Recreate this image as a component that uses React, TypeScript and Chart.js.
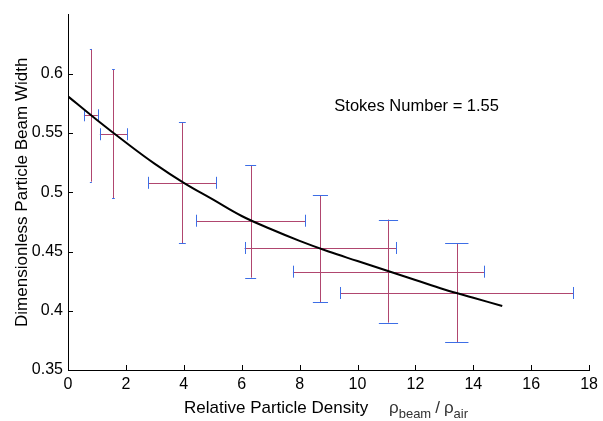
import React, { useEffect, useRef } from "react";
import { Chart, registerables } from "chart.js";

Chart.register(...registerables);

// Measured points with error bars
const xCenters = [0.79, 1.57, 3.95, 6.31, 8.72, 11.07, 13.43];
const yCenters = [0.565, 0.549, 0.508, 0.476, 0.453, 0.433, 0.415];
const xErr = [0.24, 0.47, 1.17, 1.88, 2.62, 3.3, 4.03];
const yLow = [0.509, 0.495, 0.457, 0.428, 0.407, 0.39, 0.3735];
const yHigh = [0.621, 0.604, 0.559, 0.523, 0.4975, 0.477, 0.457];

// Fitted curve
const fitX = [0, 1, 2, 3, 4, 5, 6, 7, 8, 9, 10, 11, 12, 13, 14, 15];
const fitY = [0.581, 0.561, 0.542, 0.524, 0.508, 0.494, 0.48, 0.469, 0.459, 0.45, 0.442, 0.434, 0.426, 0.418, 0.411, 0.404];

const xTicks = [0, 2, 4, 6, 8, 10, 12, 14, 16, 18];
const yTicks = [0.35, 0.4, 0.45, 0.5, 0.55, 0.6];

const annotationText = "Stokes Number = 1.55";
const yTitle = "Dimensionless Particle Beam Width";
const xTitleMain = "Relative Particle Density";

const FONT = "'Liberation Sans', Arial, sans-serif";
const STEM = "#b0466f";
const CAP = "#3d6ee6";

const decorPlugin = {
  id: "decor",
  beforeDatasetsDraw(chart: any) {
    const ctx = chart.ctx;
    const xs = chart.scales.x;
    const ys = chart.scales.y;
    ctx.save();
    ctx.lineWidth = 1;
    for (let i = 0; i < xCenters.length; i++) {
      const cx = xs.getPixelForValue(xCenters[i]);
      const cy = ys.getPixelForValue(yCenters[i]);
      const top = ys.getPixelForValue(yHigh[i]);
      const bot = ys.getPixelForValue(yLow[i]);
      const left = xs.getPixelForValue(xCenters[i] - xErr[i]);
      const right = xs.getPixelForValue(xCenters[i] + xErr[i]);
      const capHalf = Math.max(1, xs.getPixelForValue(xCenters[i] * 1.03) - cx);
      // stems
      ctx.strokeStyle = STEM;
      ctx.beginPath();
      ctx.moveTo(Math.round(cx) + 0.5, top);
      ctx.lineTo(Math.round(cx) + 0.5, bot);
      ctx.moveTo(left, Math.round(cy) + 0.5);
      ctx.lineTo(right, Math.round(cy) + 0.5);
      ctx.stroke();
      // caps
      ctx.strokeStyle = CAP;
      ctx.beginPath();
      ctx.moveTo(cx - capHalf, Math.round(top) + 0.5);
      ctx.lineTo(cx + capHalf, Math.round(top) + 0.5);
      ctx.moveTo(cx - capHalf, Math.round(bot) + 0.5);
      ctx.lineTo(cx + capHalf, Math.round(bot) + 0.5);
      ctx.moveTo(Math.round(left) + 0.5, cy - 6);
      ctx.lineTo(Math.round(left) + 0.5, cy + 6);
      ctx.moveTo(Math.round(right) + 0.5, cy - 6);
      ctx.lineTo(Math.round(right) + 0.5, cy + 6);
      ctx.stroke();
    }
    ctx.restore();
  },
  afterDraw(chart: any) {
    const ctx = chart.ctx;
    const xs = chart.scales.x;
    const ys = chart.scales.y;
    const area = chart.chartArea;
    ctx.save();
    // inward ticks
    ctx.strokeStyle = "#000";
    ctx.lineWidth = 1;
    ctx.beginPath();
    xTicks.forEach((v) => {
      const px = Math.round(xs.getPixelForValue(v)) + 0.5;
      ctx.moveTo(px, area.bottom);
      ctx.lineTo(px, area.bottom - 5);
    });
    yTicks.forEach((v) => {
      const py = Math.round(ys.getPixelForValue(v)) + 0.5;
      ctx.moveTo(area.left, py);
      ctx.lineTo(area.left + 5, py);
    });
    ctx.stroke();

    // annotation
    ctx.fillStyle = "#000";
    ctx.font = `16.5px ${FONT}`;
    ctx.textAlign = "left";
    ctx.textBaseline = "middle";
    ctx.fillText(annotationText, xs.getPixelForValue(9.2), ys.getPixelForValue(0.5725));

    // y title
    ctx.save();
    ctx.translate(22, (area.top + area.bottom) / 2);
    ctx.rotate(-Math.PI / 2);
    ctx.font = `17px ${FONT}`;
    ctx.textAlign = "center";
    ctx.textBaseline = "middle";
    ctx.fillText(yTitle, 0, 0);
    ctx.restore();

    // x title with subscripts
    const baseY = 413;
    ctx.font = `17px ${FONT}`;
    ctx.textBaseline = "alphabetic";
    ctx.textAlign = "left";
    let x = 184;
    ctx.fillText(xTitleMain, x, baseY);
    x = 389;
    ctx.fillStyle = "#333";
    ctx.fillText("\u03c1", x, baseY);
    x += ctx.measureText("\u03c1").width;
    ctx.font = `13px ${FONT}`;
    ctx.fillText("beam", x, baseY + 5);
    x += ctx.measureText("beam").width + 4;
    ctx.font = `17px ${FONT}`;
    ctx.fillText("/", x, baseY);
    x += ctx.measureText("/").width + 4;
    ctx.fillText("\u03c1", x, baseY);
    x += ctx.measureText("\u03c1").width;
    ctx.font = `13px ${FONT}`;
    ctx.fillText("air", x, baseY + 5);
    ctx.restore();
  },
};

export default function App() {
  const ref = useRef<HTMLCanvasElement>(null);
  useEffect(() => {
    if (!ref.current) return;
    const chart = new Chart(ref.current, {
      type: "scatter",
      data: {
        datasets: [
          {
            label: "fit",
            data: fitX.map((x, i) => ({ x, y: fitY[i] })),
            showLine: true,
            borderColor: "#000",
            borderWidth: 2,
            pointRadius: 0,
            tension: 0.4,
            fill: false,
          },
        ],
      },
      options: {
        animation: false,
        responsive: false,
        devicePixelRatio: 1,
        layout: { padding: { left: 0, top: 4, right: 11, bottom: 0 } },
        plugins: { legend: { display: false }, tooltip: { enabled: false } },
        scales: {
          x: {
            type: "linear",
            min: 0,
            max: 18,
            afterBuildTicks: (s: any) => {
              s.ticks = xTicks.map((v) => ({ value: v }));
            },
            afterFit: (s: any) => {
              s.height = 51;
            },
            grid: { display: false, drawTicks: false },
            border: { display: true, color: "#000", width: 1 },
            ticks: {
              padding: 5,
              color: "#000",
              font: { family: FONT, size: 16 },
              maxRotation: 0,
              callback: (v: any) => String(v),
            },
          },
          y: {
            type: "linear",
            min: 0.35,
            max: 0.65,
            afterBuildTicks: (s: any) => {
              s.ticks = yTicks.map((v) => ({ value: v }));
            },
            afterFit: (s: any) => {
              s.width = 68;
            },
            grid: { display: false, drawTicks: false },
            border: { display: true, color: "#000", width: 1 },
            ticks: {
              padding: 5,
              color: "#000",
              font: { family: FONT, size: 16 },
              callback: (v: any) => String(Number(Number(v).toFixed(2))),
            },
          },
        },
      },
      plugins: [decorPlugin],
    });
    return () => chart.destroy();
  }, []);
  return (
    <div style={{ position: "absolute", left: 0, top: 0, width: 603, height: 421, background: "#fff" }}>
      <canvas ref={ref} width={603} height={421} />
    </div>
  );
}
